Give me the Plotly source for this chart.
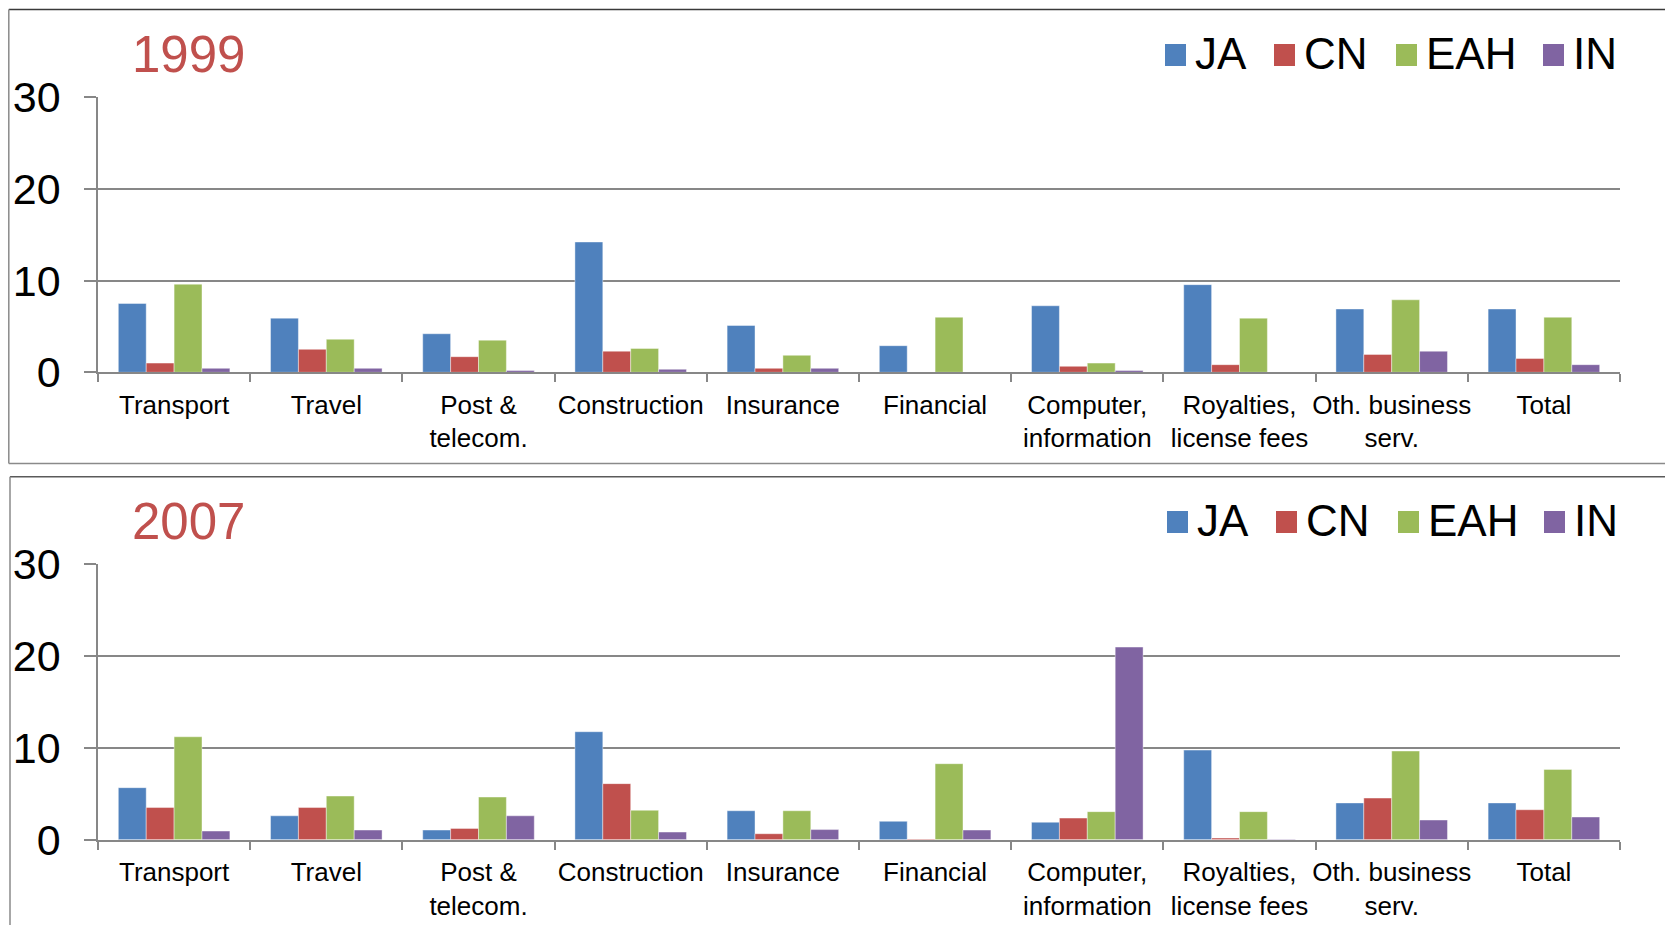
import plotly.graph_objects as go

# ---------------- data ----------------
categories = ["Transport", "Travel", "Post &<br>telecom.", "Construction", "Insurance",
              "Financial", "Computer,<br>information", "Royalties,<br>license fees",
              "Oth. business<br>serv.", "Total"]
series_names = ["JA", "CN", "EAH", "IN"]

JA_1999 = [7.5, 5.9, 4.2, 14.2, 5.1, 2.9, 7.25, 9.55, 6.9, 6.9]
CN_1999 = [1.0, 2.5, 1.7, 2.3, 0.43, 0.0, 0.65, 0.83, 1.95, 1.5]
EAH_1999 = [9.6, 3.6, 3.5, 2.6, 1.85, 6.0, 1.0, 5.9, 7.9, 6.0]
IN_1999 = [0.43, 0.43, 0.2, 0.33, 0.43, 0.0, 0.2, 0.0, 2.3, 0.83]

JA_2007 = [5.66, 2.6, 1.05, 11.75, 3.15, 2.0, 1.9, 9.75, 4.0, 4.0]
CN_2007 = [3.5, 3.5, 1.23, 6.1, 0.65, 0.07, 2.35, 0.18, 4.53, 3.26]
EAH_2007 = [11.2, 4.75, 4.64, 3.2, 3.15, 8.27, 3.05, 3.05, 9.65, 7.65]
IN_2007 = [0.94, 1.05, 2.6, 0.83, 1.1, 1.05, 20.96, 0.05, 2.14, 2.47]

y_ticks = [0, 10, 20, 30]
panel_titles = ["1999", "2007"]

# ---------------- styling ----------------
colors = {"JA": "#4F81BD", "CN": "#C0504D", "EAH": "#9BBB59", "IN": "#8064A2"}
FONT = "Liberation Sans, Arial, sans-serif"
GRID = "#878787"
OFF = 8  # page body margin
W, H = 1673 - OFF, 925 - OFF
ML, MR, MT, MB = 98 - OFF, 53, 97 - OFF, 85
PW = W - ML - MR
PH = H - MT - MB


def px2x(px):
    # px is a page coordinate
    return (px - OFF - ML) / PW


def px2y(py):
    return (H - MB - (py - OFF)) / PH


def clamp(v):
    return min(1.0, max(0.0, v))


fig = go.Figure()

panels = [
    ("x", "y", [JA_1999, CN_1999, EAH_1999, IN_1999]),
    ("x2", "y2", [JA_2007, CN_2007, EAH_2007, IN_2007]),
]
for xa, ya, vals in panels:
    for name, v in zip(series_names, vals):
        fig.add_trace(go.Bar(
            x=categories, y=v, name=name, xaxis=xa, yaxis=ya,
            marker=dict(color=colors[name], line=dict(width=0.6, color="rgba(255,255,255,0.7)")),
            showlegend=False,
        ))

top_dom = [clamp(px2y(372.3)), clamp(px2y(97))]
bot_dom = [clamp(px2y(839.7)), clamp(px2y(564))]

xaxis_common = dict(
    type="category", tickson="boundaries", ticks="outside", ticklen=8, tickwidth=1.5,
    tickcolor=GRID, showline=True, linecolor=GRID, linewidth=2, showgrid=False,
    tickfont=dict(family=FONT, size=26, color="#000000"), ticklabelstandoff=8,
    tickangle=0, automargin=False, zeroline=False, fixedrange=True,
)
yaxis_common = dict(
    range=[0, 30], tickvals=y_ticks, ticks="outside", ticklen=12, tickwidth=1.5,
    tickcolor=GRID, showline=True, linecolor=GRID, linewidth=1.5, showgrid=True,
    gridcolor=GRID, gridwidth=2, zeroline=False, automargin=False,
    tickfont=dict(family=FONT, size=43, color="#000000"), ticklabelstandoff=15,
)

fig.update_layout(
    width=W, height=H,
    margin=dict(l=ML, r=MR, t=MT, b=MB, autoexpand=False),
    paper_bgcolor="white", plot_bgcolor="white",
    barmode="group", bargap=0.267, bargroupgap=0,
    xaxis=dict(domain=[0, 1], anchor="y", **xaxis_common),
    yaxis=dict(domain=top_dom, anchor="x", **yaxis_common),
    xaxis2=dict(domain=[0, 1], anchor="y2", **xaxis_common),
    yaxis2=dict(domain=bot_dom, anchor="x2", **yaxis_common),
    showlegend=False,
)

shapes = []
annotations = []

# panel frames (page coordinates)
frames = [
    dict(top=9.5, left=8.8, bottom=463.5, topcolor="#3a3a3a"),
    dict(top=476.7, left=10, bottom=940, topcolor="#5a5a5a"),
]
for f in frames:
    shapes.append(dict(type="line", xref="paper", yref="paper",
                       x0=px2x(f["left"]), x1=px2x(1700), y0=px2y(f["top"]), y1=px2y(f["top"]),
                       line=dict(color=f["topcolor"], width=1.5)))
    shapes.append(dict(type="line", xref="paper", yref="paper",
                       x0=px2x(f["left"]), x1=px2x(f["left"]), y0=px2y(f["top"]), y1=px2y(f["bottom"]),
                       line=dict(color="#8a8a8a", width=1.5)))
    shapes.append(dict(type="line", xref="paper", yref="paper",
                       x0=px2x(f["left"]), x1=px2x(1700), y0=px2y(f["bottom"]), y1=px2y(f["bottom"]),
                       line=dict(color="#8a8a8a", width=1.5)))

# panel titles
for title, cy in zip(panel_titles, [54, 521]):
    annotations.append(dict(text=title, xref="paper", yref="paper", x=px2x(188), y=px2y(cy),
                            xanchor="center", yanchor="middle", showarrow=False,
                            font=dict(family=FONT, size=51, color="#C0504D")))

# legends (one per panel)
legend_sq_left = [[1165, 1274, 1396, 1543], [1167, 1276, 1398, 1544]]
legend_cy = [55, 522]
for lefts, cy in zip(legend_sq_left, legend_cy):
    for name, lx in zip(series_names, lefts):
        shapes.append(dict(type="rect", xref="paper", yref="paper",
                           x0=px2x(lx), x1=px2x(lx + 21), y0=px2y(cy - 11), y1=px2y(cy + 11),
                           fillcolor=colors[name], line=dict(width=0)))
        annotations.append(dict(text=name, xref="paper", yref="paper", x=px2x(lx + 28), y=px2y(cy - 1.5),
                                xanchor="left", yanchor="middle", showarrow=False,
                                font=dict(family=FONT, size=44, color="#000000")))

fig.update_layout(shapes=shapes, annotations=annotations)

fig.write_html("out.html")
